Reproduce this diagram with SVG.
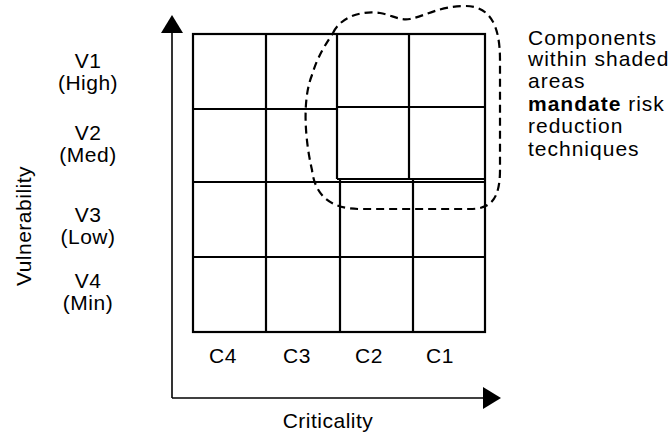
<svg xmlns="http://www.w3.org/2000/svg" width="670" height="434" viewBox="0 0 670 434">
<style>
text{font-family:"Liberation Sans",Arial,sans-serif;fill:#000;letter-spacing:0.5px}
.lbl{font-size:21px;text-anchor:middle}
.note{font-size:21px;letter-spacing:1px}
.g{stroke:#000;stroke-width:2.2;fill:none}
.ax{stroke:#000;stroke-width:1.6;fill:none}
</style>
<rect width="670" height="434" fill="#fff"/>
<g id="axes">
<line class="ax" x1="172" y1="398" x2="172" y2="33"/>
<polygon points="172,15 161,33 183,33" fill="#000"/>
<line class="ax" x1="172" y1="398" x2="483" y2="398"/>
<polygon points="501,398 483,387 483,409" fill="#000"/>
</g>
<g id="grid">
<rect class="g" x="193" y="34" width="292" height="298"/>
<line class="g" x1="266" y1="34" x2="266" y2="332"/>
<line class="g" x1="337" y1="34" x2="337" y2="179"/>
<line class="g" x1="409" y1="34" x2="409" y2="179"/>
<line class="g" x1="340" y1="178" x2="340" y2="332"/>
<line class="g" x1="413" y1="178" x2="413" y2="332"/>
<line class="g" x1="193" y1="109" x2="337" y2="109"/>
<line class="g" x1="337" y1="107" x2="485" y2="107"/>
<line class="g" x1="337" y1="179" x2="485" y2="179"/>
<line class="g" x1="193" y1="182" x2="485" y2="182"/>
<line class="g" x1="193" y1="257" x2="485" y2="257"/>
</g>
<g id="region">
<path d="M333,33 C340,18 360,10 380,13 C392,15 400,21 410,19 C425,16 440,6 465,6 C490,6 500,25 500,60 L500,170 C500,200 490,209 470,209 L360,209 C330,209 315,195 312,170 C305,140 302,100 312,75 C318,55 326,44 333,33 Z" fill="none" stroke="#000" stroke-width="2.2" stroke-dasharray="8,5"/>
</g>
<g id="labels">
<text class="lbl" x="88" y="68">V1</text>
<text class="lbl" x="88" y="90">(High)</text>
<text class="lbl" x="88" y="140">V2</text>
<text class="lbl" x="88" y="162">(Med)</text>
<text class="lbl" x="88" y="222">V3</text>
<text class="lbl" x="88" y="244">(Low)</text>
<text class="lbl" x="88" y="288">V4</text>
<text class="lbl" x="88" y="310">(Min)</text>
<text class="lbl" x="223" y="363">C4</text>
<text class="lbl" x="297" y="363">C3</text>
<text class="lbl" x="369" y="363">C2</text>
<text class="lbl" x="440" y="363">C1</text>
<text class="lbl" x="328" y="428">Criticality</text>
<text class="lbl" transform="translate(31,226) rotate(-90)">Vulnerability</text>
</g>
<g id="note">
<text class="note" x="528" y="45">Components</text>
<text class="note" x="528" y="66">within shaded</text>
<text class="note" x="528" y="88">areas</text>
<text class="note" x="528" y="111"><tspan font-weight="bold">mandate</tspan> risk</text>
<text class="note" x="528" y="133">reduction</text>
<text class="note" x="528" y="156">techniques</text>
</g>
</svg>
